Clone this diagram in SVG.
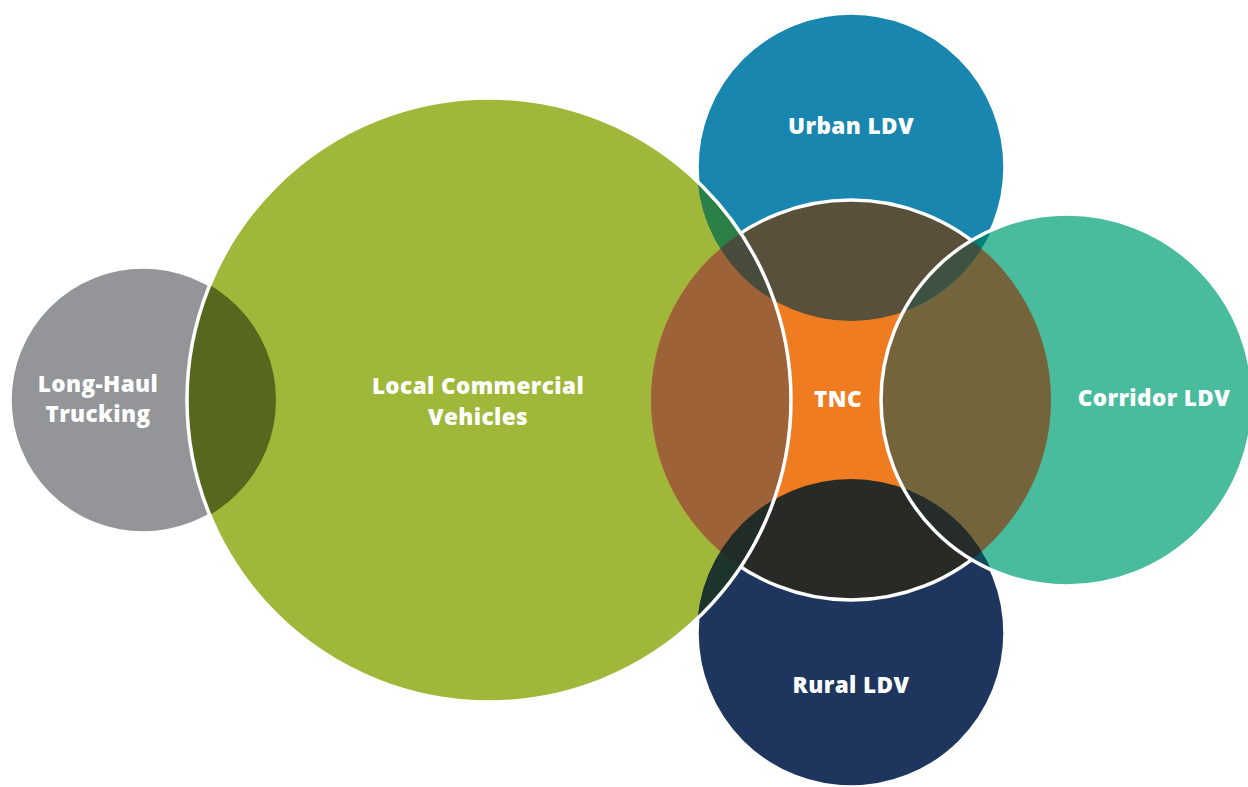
<svg xmlns="http://www.w3.org/2000/svg" width="1248" height="787" viewBox="0 0 1248 787">
<defs>
<style>
.lbl{font-family:"Open Sans","Liberation Sans",sans-serif;font-weight:800;font-size:22.5px;letter-spacing:0.4px;fill:#ffffff;text-anchor:middle}
.edge{fill:none;stroke:#ffffff;stroke-width:3.5}
</style>
<clipPath id="cGray"><circle cx="143" cy="400" r="133"/></clipPath>
<clipPath id="cGreen"><circle cx="489" cy="400" r="302"/></clipPath>
<clipPath id="cUrban"><circle cx="851" cy="167" r="154"/></clipPath>
<clipPath id="cRural"><circle cx="851" cy="633" r="154"/></clipPath>
<clipPath id="cTnc"><circle cx="851" cy="400" r="200"/></clipPath>
<clipPath id="cCorr"><circle cx="1067" cy="400" r="186"/></clipPath>
<mask id="mUR" maskUnits="userSpaceOnUse" x="0" y="0" width="1248" height="787">
<rect width="1248" height="787" fill="#fff"/>
<circle cx="851" cy="400" r="200" fill="#000"/>
<circle cx="1067" cy="400" r="186" fill="#000"/>
<circle cx="489" cy="400" r="302" fill="#000"/>
</mask>
<mask id="mTnc" maskUnits="userSpaceOnUse" x="0" y="0" width="1248" height="787">
<rect width="1248" height="787" fill="#fff"/>
<circle cx="1067" cy="400" r="186" fill="#000"/>
<circle cx="489" cy="400" r="302" fill="#000"/>
</mask>
<mask id="mGray" maskUnits="userSpaceOnUse" x="0" y="0" width="1248" height="787">
<rect width="1248" height="787" fill="#fff"/>
<circle cx="489" cy="400" r="302" fill="#000"/>
</mask>
</defs>
<rect width="1248" height="787" fill="#ffffff"/>

<g id="node-long-haul-trucking">
<circle cx="143" cy="400" r="133" fill="#939598"/>
</g>
<g id="node-local-commercial-vehicles">
<circle cx="489" cy="400" r="302" fill="#A0B83A"/>
</g>
<g id="node-urban-ldv">
<circle cx="851" cy="167" r="154" fill="#1886AE"/>
</g>
<g id="node-rural-ldv">
<circle cx="851" cy="633" r="154" fill="#1E365E"/>
</g>
<g id="node-tnc">
<circle cx="851" cy="400" r="200" fill="#F07C22"/>
</g>
<g id="node-corridor-ldv">
<circle cx="1067" cy="400" r="186" fill="#4ABC9E"/>
</g>

<g id="overlaps">
<circle cx="143" cy="400" r="133" fill="#56681E" clip-path="url(#cGreen)"/>
<circle cx="851" cy="167" r="154" fill="#2A8046" clip-path="url(#cGreen)"/>
<circle cx="851" cy="633" r="154" fill="#1C342C" clip-path="url(#cGreen)"/>
<circle cx="851" cy="400" r="200" fill="#9E6238" clip-path="url(#cGreen)"/>
<circle cx="851" cy="400" r="200" fill="#58503B" clip-path="url(#cUrban)"/>
<circle cx="851" cy="400" r="200" fill="#282A26" clip-path="url(#cRural)"/>
<circle cx="851" cy="400" r="200" fill="#74643C" clip-path="url(#cCorr)"/>
<circle cx="851" cy="167" r="154" fill="#00807A" clip-path="url(#cCorr)"/>
<circle cx="851" cy="633" r="154" fill="#0F4A5C" clip-path="url(#cCorr)"/>
<g clip-path="url(#cGreen)"><circle cx="851" cy="400" r="200" fill="#474C3D" clip-path="url(#cUrban)"/></g>
<g clip-path="url(#cGreen)"><circle cx="851" cy="400" r="200" fill="#222C26" clip-path="url(#cRural)"/></g>
<g clip-path="url(#cCorr)"><circle cx="851" cy="400" r="200" fill="#3E5242" clip-path="url(#cUrban)"/></g>
<g clip-path="url(#cCorr)"><circle cx="851" cy="400" r="200" fill="#262C29" clip-path="url(#cRural)"/></g>
</g>

<g id="edges">
<circle class="edge" cx="143" cy="400" r="133" mask="url(#mGray)"/>
<circle class="edge" cx="851" cy="167" r="154" mask="url(#mUR)"/>
<circle class="edge" cx="851" cy="633" r="154" mask="url(#mUR)"/>
<circle class="edge" cx="851" cy="400" r="200" mask="url(#mTnc)"/>
<circle class="edge" cx="1067" cy="400" r="186"/>
<circle class="edge" cx="489" cy="400" r="302"/>
</g>

<g id="labels">
<text class="lbl" x="98" y="392">Long-Haul</text>
<text class="lbl" x="98" y="422">Trucking</text>
<text class="lbl" x="478" y="394">Local Commercial</text>
<text class="lbl" x="478" y="425">Vehicles</text>
<text class="lbl" x="851" y="134">Urban LDV</text>
<text class="lbl" x="838" y="407">TNC</text>
<text class="lbl" x="1154" y="406">Corridor LDV</text>
<text class="lbl" x="851" y="693">Rural LDV</text>
</g>
</svg>
